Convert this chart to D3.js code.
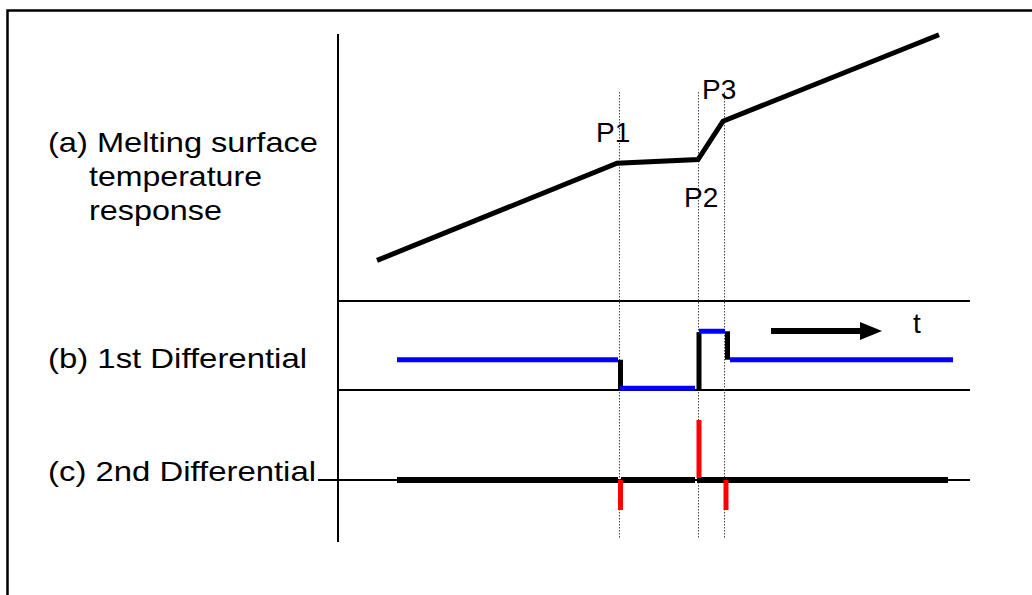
<!DOCTYPE html>
<html>
<head>
<meta charset="utf-8">
<script src="https://cdn.jsdelivr.net/npm/d3@7"></script>
<style>
  body { margin: 0; background: #fff; }
  svg text { font-family: "Liberation Sans", Arial, sans-serif; fill: #000; }
</style>
</head>
<body>
<svg id="chart" width="1032" height="595"></svg>
<script>
// time axis (arbitrary units) shared by all three panels
var markTimes = [282, 361, 387];          // P1, P2, P3
var markNames = ["P1", "P2", "P3"];

// (a) melting surface temperature response
var tempTimes  = [39, 279, 360, 385, 601];
var tempValues = [4, 44.5, 46, 62, 98];

// (b) 1st differential, step levels
var d1Starts = [59, 282, 361, 392];
var d1Ends   = [280, 357, 387, 615];
var d1Levels = [0.34, 0.02, 0.66, 0.34];
var d1JumpTimes = [282.5, 361, 389.5];
var d1JumpFrom  = [0.34, 0, 0.66];
var d1JumpTo    = [0, 0.65, 0.34];

// (c) 2nd differential
var d2Starts = [59, 283, 359];
var d2Ends   = [280, 357, 610];
var spikeTimes  = [282.5, 361, 388];
var spikeValues = [-0.5, 1, -0.5];

var labelsA = ["(a) Melting surface", "temperature", "response"];
var labelB = "(b) 1st Differential";
var labelC = "(c) 2nd Differential";

var svg = d3.select("#chart");

// frame
svg.append("rect")
   .attr("x", 7.5).attr("y", 10.5)
   .attr("width", 1100).attr("height", 700)
   .attr("fill", "none")
   .attr("stroke", "#000")
   .attr("stroke-width", 2.5);

var x = d3.scaleLinear().domain([0, 632]).range([338, 970]);
var yA = d3.scaleLinear().domain([0, 100]).range([270, 30]);
var yB = d3.scaleLinear().domain([0, 1]).range([390, 301]);
var yC = d3.scaleLinear().domain([-1, 1]).range([540, 420]);

// axis frame lines
svg.append("line")
   .attr("x1", x(0)).attr("x2", x(0))
   .attr("y1", 34).attr("y2", 542)
   .attr("stroke", "#000").attr("stroke-width", 2);

[yB(1), yB(0)].forEach(function(yy){
  svg.append("line")
     .attr("x1", x(0)).attr("x2", x(632))
     .attr("y1", yy).attr("y2", yy)
     .attr("stroke", "#000").attr("stroke-width", 2);
});
svg.append("line")
   .attr("x1", 318).attr("x2", x(632))
   .attr("y1", yC(0)).attr("y2", yC(0))
   .attr("stroke", "#000").attr("stroke-width", 2);

// dotted marker lines
svg.selectAll(".mark")
   .data(markTimes).enter()
   .append("line")
   .attr("class", "mark")
   .attr("x1", function(d){ return x(d) - 0.5; })
   .attr("x2", function(d){ return x(d) - 0.5; })
   .attr("y1", 92).attr("y2", 538)
   .attr("stroke", "#444")
   .attr("stroke-width", 1)
   .attr("stroke-dasharray", "1.5,1.5");

// (a) curve
var line = d3.line()
  .x(function(d, i){ return x(tempTimes[i]); })
  .y(function(d){ return yA(d); });

svg.append("path")
   .attr("d", line(tempValues))
   .attr("fill", "none")
   .attr("stroke", "#000")
   .attr("stroke-width", 5)
   .attr("stroke-linejoin", "miter");

// P labels
var pPos = [[596, 142], [684, 207], [702, 99]];
svg.selectAll(".plabel")
   .data(markNames).enter()
   .append("text")
   .attr("class", "plabel")
   .attr("x", function(d, i){ return pPos[i][0]; })
   .attr("y", function(d, i){ return pPos[i][1]; })
   .attr("font-size", 28)
   .text(function(d){ return d; });

// (b) black jumps
svg.selectAll(".jump")
   .data(d1JumpTimes).enter()
   .append("line")
   .attr("class", "jump")
   .attr("x1", function(d){ return x(d); })
   .attr("x2", function(d){ return x(d); })
   .attr("y1", function(d, i){ return Math.min(yB(d1JumpFrom[i]), yB(d1JumpTo[i])); })
   .attr("y2", function(d, i){ return Math.max(yB(d1JumpFrom[i]), yB(d1JumpTo[i])); })
   .attr("stroke", "#000")
   .attr("stroke-width", 5);

// (b) blue levels
svg.selectAll(".level")
   .data(d1Levels).enter()
   .append("line")
   .attr("class", "level")
   .attr("x1", function(d, i){ return x(d1Starts[i]); })
   .attr("x2", function(d, i){ return x(d1Ends[i]); })
   .attr("y1", function(d){ return yB(d); })
   .attr("y2", function(d){ return yB(d); })
   .attr("stroke", "#0000ff")
   .attr("stroke-width", 5);

// time arrow
svg.append("line")
   .attr("x1", 771).attr("x2", 862)
   .attr("y1", 331).attr("y2", 331)
   .attr("stroke", "#000").attr("stroke-width", 6);
svg.append("path")
   .attr("d", "M860,322 L882,331 L860,340 Z")
   .attr("fill", "#000");
svg.append("text")
   .attr("x", 913).attr("y", 333)
   .attr("font-size", 28)
   .text("t");

// (c) black baseline segments
svg.selectAll(".d2seg")
   .data(d2Starts).enter()
   .append("line")
   .attr("class", "d2seg")
   .attr("x1", function(d){ return x(d); })
   .attr("x2", function(d, i){ return x(d2Ends[i]); })
   .attr("y1", yC(0)).attr("y2", yC(0))
   .attr("stroke", "#000")
   .attr("stroke-width", 6);

// (c) red spikes
svg.selectAll(".spike")
   .data(spikeValues).enter()
   .append("line")
   .attr("class", "spike")
   .attr("x1", function(d, i){ return x(spikeTimes[i]); })
   .attr("x2", function(d, i){ return x(spikeTimes[i]); })
   .attr("y1", function(d){ return d > 0 ? yC(0) - 2 : yC(0); })
   .attr("y2", function(d){ return yC(d); })
   .attr("stroke", "#ff0000")
   .attr("stroke-width", 5);

// panel labels
var labA = [[48, 152, 270], [89, 186, 173], [89, 220, 133]];
svg.selectAll(".labA")
   .data(labelsA).enter()
   .append("text")
   .attr("class", "labA")
   .attr("x", function(d, i){ return labA[i][0]; })
   .attr("y", function(d, i){ return labA[i][1]; })
   .attr("font-size", 28)
   .attr("textLength", function(d, i){ return labA[i][2]; })
   .attr("lengthAdjust", "spacingAndGlyphs")
   .text(function(d){ return d; });

svg.append("text")
   .attr("x", 48).attr("y", 368)
   .attr("font-size", 28)
   .attr("textLength", 259)
   .attr("lengthAdjust", "spacingAndGlyphs")
   .text(labelB);

svg.append("text")
   .attr("x", 48).attr("y", 481)
   .attr("font-size", 28)
   .attr("textLength", 268)
   .attr("lengthAdjust", "spacingAndGlyphs")
   .text(labelC);
</script>
</body>
</html>
